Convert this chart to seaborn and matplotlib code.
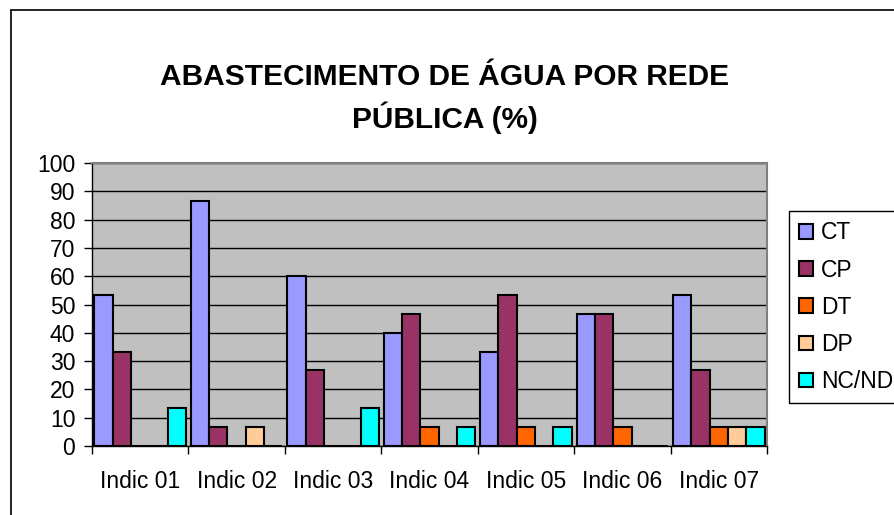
import pandas as pd
import seaborn as sns
import matplotlib.pyplot as plt
from matplotlib.lines import Line2D

groups = ["Indic 01", "Indic 02", "Indic 03", "Indic 04", "Indic 05", "Indic 06", "Indic 07"]
series = ["CT", "CP", "DT", "DP", "NC/ND"]
ct = [53.3, 86.7, 60.0, 40.0, 33.3, 46.7, 53.3]
cp = [33.3, 6.7, 26.7, 46.7, 53.3, 46.7, 26.7]
dt = [0, 0, 0, 6.7, 6.7, 6.7, 6.7]
dp = [0, 6.7, 0, 0, 0, 0, 6.7]
ncnd = [13.3, 0, 13.3, 6.7, 6.7, 0, 6.7]
colors = ["#9999FF", "#993366", "#FF6600", "#FFCC99", "#00FFFF"]

rows = []
for name, vals in zip(series, [ct, cp, dt, dp, ncnd]):
    for g, v in zip(groups, vals):
        rows.append({"grupo": g, "serie": name, "valor": v})
df = pd.DataFrame(rows)

sns.set_style("white")
plt.rcParams["font.family"] = ["Liberation Sans", "DejaVu Sans"]
plt.rcParams["text.color"] = "black"
plt.rcParams["xtick.color"] = "black"
plt.rcParams["ytick.color"] = "black"

fig = plt.figure(figsize=(8.95, 5.15), dpi=100)
ax = fig.add_axes([92 / 895, 69 / 515, 675 / 895, 283 / 515])

sns.barplot(
    data=df,
    x="grupo",
    y="valor",
    hue="serie",
    hue_order=series,
    palette=colors,
    width=0.95,
    gap=0,
    saturation=1,
    edgecolor="black",
    linewidth=1.5,
    errorbar=None,
    ax=ax
)

ax.set_facecolor("#C0C0C0")
ax.set_ylim(0, 100)
ax.set_xlim(-0.5, 6.5)
ax.set_yticks(range(0, 101, 10))
ax.yaxis.grid(True, color="black", linewidth=1)
ax.set_axisbelow(True)
ax.set_xlabel("")
ax.set_ylabel("")

ax.set_xticks([i - 0.5 for i in range(8)], minor=True)
ax.tick_params(axis="x", which="major", length=0, pad=17, labelsize=16.5)
ax.tick_params(axis="x", which="minor", length=6, width=1, color="black", direction="out")
ax.tick_params(axis="y", length=6, width=1, color="black", direction="out", labelsize=16.5, pad=6)
ax.xaxis.set_tick_params(bottom=True, which="both")
ax.yaxis.set_tick_params(left=True)

for s in ["left", "bottom"]:
    ax.spines[s].set_color("black")
    ax.spines[s].set_linewidth(1)
for s in ["top", "right"]:
    ax.spines[s].set_color("#808080")
    ax.spines[s].set_linewidth(1.5)

leg = ax.legend(
    loc="upper left",
    bbox_to_anchor=(789 / 895, 1 - 211 / 515),
    bbox_transform=fig.transFigure,
    borderaxespad=0,
    fancybox=False,
    edgecolor="black",
    fontsize=16.5,
    handlelength=0.6,
    handleheight=0.6,
    handletextpad=0.35,
    labelspacing=0.62,
    borderpad=0.45,
    framealpha=1,
)
leg.get_frame().set_linewidth(1)

fig.text(0.497, 1 - 77.5 / 515, "ABASTECIMENTO DE ÁGUA POR REDE",
         ha="center", va="center", fontsize=21.5, fontweight="bold")
fig.text(0.497, 1 - 117.5 / 515, "PÚBLICA (%)",
         ha="center", va="center", fontsize=21.5, fontweight="bold")

fig.add_artist(Line2D([11 / 895, 11 / 895], [0, 1 - 10 / 515], color="black", linewidth=1.2))
fig.add_artist(Line2D([11 / 895, 1], [1 - 10 / 515, 1 - 10 / 515], color="black", linewidth=1.2))

plt.savefig("out.png", dpi=100)
plt.close()
